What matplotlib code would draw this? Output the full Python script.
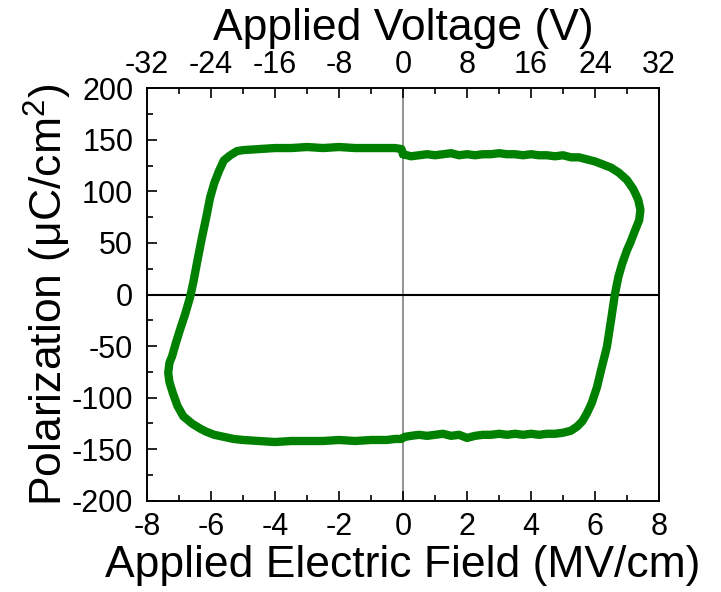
import matplotlib as mpl
import matplotlib.pyplot as plt
from matplotlib.ticker import MultipleLocator

mpl.rcParams['font.family'] = ['Liberation Sans', 'DejaVu Sans']
mpl.rcParams['mathtext.fontset'] = 'custom'
mpl.rcParams['mathtext.rm'] = 'Liberation Sans'
mpl.rcParams['axes.unicode_minus'] = False

tick_size = 22
label_size = 32

# P-E loop, traced once around: upper branch to +Emax, down, lower branch to -Emax, up
field = [0.0, 0.25, 0.5, 0.75, 1.0, 1.25, 1.5, 1.75, 2.0, 2.25, 2.5, 2.75, 3.0,
         3.25, 3.5, 3.75, 4.0, 4.25, 4.5, 4.75, 5.0, 5.25, 5.5, 5.75, 6.0, 6.25,
         6.5, 6.75, 7.0, 7.2, 7.35, 7.42, 7.38, 7.25, 7.1, 7.0, 6.85, 6.73, 6.62,
         6.5, 6.37, 6.2, 6.06, 5.9, 5.75, 5.6, 5.44, 5.25, 5.0, 4.75, 4.5, 4.25,
         4.0, 3.75, 3.5, 3.25, 3.0, 2.75, 2.5, 2.25, 2.0, 1.75, 1.5, 1.25, 1.0,
         0.75, 0.5, 0.25, 0.05, -0.05, -0.25, -0.5, -0.75, -1.0, -1.5, -2.0, -2.5,
         -3.0, -3.5, -4.0, -4.5, -5.0, -5.3, -5.6, -5.9, -6.15, -6.34, -6.6, -6.87,
         -7.05, -7.19, -7.3, -7.34, -7.3, -7.22, -7.1, -6.97, -6.82, -6.66, -6.56,
         -6.42, -6.28, -6.15, -6.03, -5.9, -5.75, -5.6, -5.4, -5.19, -5.0, -4.5,
         -4.0, -3.5, -3.0, -2.5, -2.0, -1.5, -1.0, -0.5, -0.25, -0.05, 0.0]
polarization = [136, 134, 135, 136, 135, 136, 137, 135, 136, 135, 136, 136, 137,
                136, 136, 135, 136, 135, 135, 134, 135, 133, 133, 131, 129, 126,
                123, 118, 111, 102, 92, 82, 72, 62, 50, 43, 30, 17, 0,
                -25, -51, -72, -90, -105, -115, -123, -128, -132, -134, -135, -135, -136,
                -135, -136, -135, -136, -135, -136, -136, -137, -139, -136, -137, -135, -136,
                -137, -136, -137, -138, -140, -140, -141, -141, -141, -142, -141, -142,
                -142, -142, -143, -142, -141, -140, -138, -136, -133, -130, -125, -118,
                -108, -96, -85, -76, -66, -60, -47, -34, -20, -3, 11,
                34, 56, 75, 94, 108, 120, 130, 135, 139, 140, 141,
                142, 142, 143, 142, 143, 142, 142, 142, 142, 141, 136]

field_limits = (-8, 8)
pol_limits = (-200, 200)
volts_per_field = 4  # film thickness converts MV/cm to V

fig = plt.figure(figsize=(7.21, 5.92), dpi=100)
ax = fig.add_axes([0.204, 0.154, 0.71, 0.697])

ax.axvline(0, color='#808080', lw=1.2, zorder=1)
ax.axhline(0, color='black', lw=1.5, zorder=1)
ax.plot(field, polarization, color='#008000', lw=6, solid_capstyle='round',
        solid_joinstyle='round', zorder=3)

ax.set_xlim(*field_limits)
ax.set_ylim(*pol_limits)
ax.xaxis.set_major_locator(MultipleLocator(2))
ax.xaxis.set_minor_locator(MultipleLocator(1))
ax.yaxis.set_major_locator(MultipleLocator(50))
ax.yaxis.set_minor_locator(MultipleLocator(25))
ax.tick_params(which='both', direction='in', right=False, top=False, width=1.2,
               labelsize=tick_size)
ax.tick_params(which='major', length=7)
ax.tick_params(which='minor', length=4)
ax.tick_params(axis='x', pad=8)
ax.tick_params(axis='y', pad=10)

ax.set_xlabel('Applied Electric Field (MV/cm)', fontsize=label_size, labelpad=2)
ax.set_ylabel(r'Polarization ($\mathrm{\mu}$C/cm$^2$)', fontsize=label_size, labelpad=-2)

top = ax.twiny()
top.set_xlim(field_limits[0] * volts_per_field, field_limits[1] * volts_per_field)
top.xaxis.set_major_locator(MultipleLocator(8))
top.xaxis.set_minor_locator(MultipleLocator(4))
top.tick_params(which='both', direction='in', width=1.2, labelsize=tick_size)
top.tick_params(which='major', length=7, pad=6)
top.tick_params(which='minor', length=4)
top.set_xlabel('Applied Voltage (V)', fontsize=label_size, labelpad=7)

for a in (ax, top):
    for s in a.spines.values():
        s.set_linewidth(1.2)

fig.savefig('out.png', dpi=100)
